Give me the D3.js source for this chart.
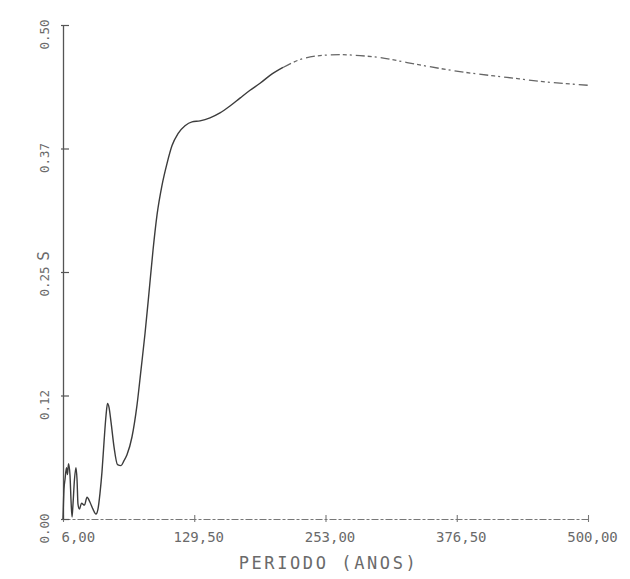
<!DOCTYPE html>
<html>
<head>
<meta charset="utf-8">
<script src="https://cdn.jsdelivr.net/npm/d3@7"></script>
<style>
  html, body { margin: 0; padding: 0; background: #fff; }
  svg { display: block; }
  text { font-family: "DejaVu Sans Mono", "Liberation Mono", monospace; fill: #6a6a6a; }
</style>
</head>
<body>
<svg id="chart" width="630" height="579"></svg>
<script>
// Spectrum S versus period (years)
const periodYears = [
  6.0, 6.9, 7.9, 9.3, 10.2, 11.2, 12.6, 13.5, 14.5, 15.4, 16.8, 18.2, 19.2, 20.1,
  21.5, 23.4, 26.2, 28.6, 31.4, 34.2, 37.0, 38.9, 40.8, 42.7, 44.6, 46.5, 47.9,
  49.3, 51.2, 54.0, 57.3, 60.6, 63.4, 66.2, 70.9, 75.6, 79.4, 83.2, 86.9, 90.7,
  94.5, 99.2, 103.9, 108.6, 114.2, 120.8, 127.4, 134.9, 144.3, 153.7,
  163.1, 172.5, 182.0, 191.4, 200.8, 213.0, 229.0, 247.8, 266.6, 285.5, 304.3,
  329.7, 360.7, 391.8, 423.8, 454.8, 500.0
];
const sValues = [
  0.000, 0.030, 0.040, 0.052, 0.045, 0.056, 0.044, 0.020, 0.002, 0.015, 0.040, 0.052, 0.040, 0.015,
  0.010, 0.016, 0.014, 0.022, 0.017, 0.010, 0.005, 0.010, 0.026, 0.048, 0.078, 0.105, 0.117,
  0.113, 0.098, 0.073, 0.055, 0.054, 0.059, 0.065, 0.083, 0.115, 0.151, 0.188, 0.229, 0.272,
  0.308, 0.338, 0.360, 0.378, 0.390, 0.398, 0.402, 0.403, 0.406, 0.411,
  0.418, 0.426, 0.434, 0.441, 0.449, 0.457, 0.465, 0.469, 0.470, 0.469, 0.467,
  0.462, 0.456, 0.451, 0.447, 0.443, 0.439
];
const xTicks = [6.0, 129.5, 253.0, 376.5, 500.0];
const yTicks = [0, 0.125, 0.25, 0.375, 0.5];
const xTitle = "PERIODO (ANOS)";
const yTitle = "S";

const data = periodYears.map((p, i) => ({ p, s: sValues[i] }));

const svg = d3.select("#chart");
const margin = { left: 63, right: 42, top: 25, bottom: 60 };
const W = 630, H = 579;

const x = d3.scaleLinear().domain([6, 500]).range([margin.left, W - margin.right]);
const y = d3.scaleLinear().domain([0, 0.5]).range([H - margin.bottom, margin.top]);

// x axis: dashed plotter line with short ticks across it
const xAxis = svg.append("g")
  .attr("transform", `translate(0,${y(0)})`)
  .call(d3.axisBottom(x).tickValues(xTicks).tickSize(0).tickFormat(() => ""));
xAxis.select(".domain")
  .attr("stroke", "#777").attr("stroke-width", 1.1)
  .attr("stroke-dasharray", "7,2,3,2");
xAxis.selectAll(".tick").append("line")
  .attr("y1", -4).attr("y2", 3).attr("stroke", "#777").attr("stroke-width", 1.1);
xAxis.selectAll(".tick").append("text")
  .attr("y", 23)
  .attr("x", (d, i) => i === 0 ? -2 : 4)
  .attr("text-anchor", (d, i) => i === 0 ? "start" : "middle")
  .attr("font-size", 14).attr("fill", "#6a6a6a")
  .text(d => d.toFixed(2).replace(".", ","));

// y axis: solid line, small horizontal ticks, rotated labels
const yAxis = svg.append("g")
  .attr("transform", `translate(${x(6)},0)`)
  .call(d3.axisLeft(y).tickValues(yTicks).tickSize(0).tickFormat(() => ""));
yAxis.select(".domain").attr("stroke", "#555").attr("stroke-width", 1.3);
yAxis.selectAll(".tick").append("line")
  .attr("x1", -2).attr("x2", 6).attr("stroke", "#555").attr("stroke-width", 1.2);
yAxis.selectAll(".tick").append("text")
  .attr("transform", "translate(-14,9) rotate(-90)")
  .attr("text-anchor", "middle")
  .attr("font-size", 12.5).attr("fill", "#6a6a6a")
  .text(d => (Math.floor(d * 100 + 1e-9) / 100).toFixed(2));

// axis titles
svg.append("text")
  .attr("x", (x(6) + x(500)) / 2 + 3).attr("y", H - 10)
  .attr("text-anchor", "middle")
  .attr("font-size", 17).attr("letter-spacing", 2.6)
  .text(xTitle);
svg.append("text")
  .attr("transform", `translate(${x(6) - 14},${y(0.25) - 16}) rotate(-90)`)
  .attr("text-anchor", "middle")
  .attr("font-size", 16)
  .text(yTitle);

// the curve: solid through the rise, fainter dashed trace across the plateau
const line = d3.line().x(d => x(d.p)).y(d => y(d.s)).curve(d3.curveMonotoneX);
const split = 213.0;
svg.append("path")
  .datum(data.filter(d => d.p <= split))
  .attr("d", line)
  .attr("fill", "none").attr("stroke", "#3c3c3c").attr("stroke-width", 1.4)
  .attr("stroke-linejoin", "round");
svg.append("path")
  .datum(data.filter(d => d.p >= split))
  .attr("d", line)
  .attr("fill", "none").attr("stroke", "#666").attr("stroke-width", 1.3)
  .attr("stroke-dasharray", "9,3,4,3,2,4");
</script>
</body>
</html>
